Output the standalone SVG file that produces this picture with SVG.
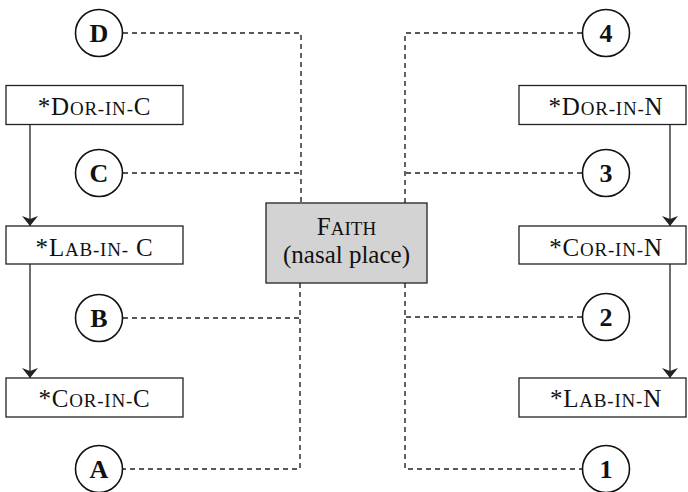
<svg xmlns="http://www.w3.org/2000/svg" width="688" height="492" viewBox="0 0 688 492">
<defs>
<style>
.box{fill:#fff;stroke:#222;stroke-width:1.3}
.faith{fill:#d3d3d3;stroke:#222;stroke-width:1.3}
.circ{fill:#fff;stroke:#111;stroke-width:1.6}
.t{font-family:"Liberation Serif","Times New Roman",serif;font-size:25px;fill:#111;text-anchor:middle}
.lbl{letter-spacing:0.8px}
.sc{font-size:19px}
.n{font-family:"Liberation Serif","Times New Roman",serif;font-size:26px;font-weight:bold;fill:#111;text-anchor:middle}
.dash{fill:none;stroke:#222;stroke-width:1.4;stroke-dasharray:5 4}
.arr{fill:none;stroke:#333;stroke-width:1.4;marker-end:url(#ah)}
</style>
<marker id="ah" viewBox="0 0 10 16" refX="10" refY="8" markerWidth="10" markerHeight="16" markerUnits="userSpaceOnUse" orient="auto">
<path d="M0,0 L10,8 L0,16 L3,8 Z" fill="#222"/>
</marker>
</defs>
<g id="connectors">
<path class="dash" d="M123,33 H301 V203"/>
<path class="dash" d="M123,173 H301"/>
<path class="dash" d="M123,318 H300"/>
<path class="dash" d="M300,283 V469 H123"/>
<path class="dash" d="M582,33 H405 V203"/>
<path class="dash" d="M582,173 H405"/>
<path class="dash" d="M582,317 H405"/>
<path class="dash" d="M405,283 V469 H582"/>
<line class="arr" x1="30" y1="124" x2="30" y2="226"/>
<line class="arr" x1="30" y1="264" x2="30" y2="378"/>
<line class="arr" x1="670" y1="124" x2="670" y2="226"/>
<line class="arr" x1="670" y1="264" x2="670" y2="378"/>
</g>
<g id="faith">
<rect class="faith" x="266" y="203" width="161" height="80"/>
<text class="t" x="346.5" y="235">F<tspan class="sc">AITH</tspan></text>
<text class="t" x="346.5" y="263">(nasal place)</text>
</g>
<g id="dor-in-c">
<rect class="box" x="6" y="85.5" width="177" height="39"/>
<text class="t lbl" x="94.5" y="115">*D<tspan class="sc">OR-IN-</tspan>C</text>
</g>
<g id="lab-in-c">
<rect class="box" x="6" y="226" width="177" height="38"/>
<text class="t lbl" x="94.5" y="256">*L<tspan class="sc">AB-IN-</tspan> C</text>
</g>
<g id="cor-in-c">
<rect class="box" x="6" y="378" width="177" height="39"/>
<text class="t lbl" x="94.5" y="407">*C<tspan class="sc">OR-IN-</tspan>C</text>
</g>
<g id="dor-in-n">
<rect class="box" x="519" y="85.5" width="167" height="39"/>
<text class="t lbl" x="606" y="115">*D<tspan class="sc">OR-IN-</tspan>N</text>
</g>
<g id="cor-in-n">
<rect class="box" x="519" y="226" width="167" height="38"/>
<text class="t lbl" x="606" y="256">*C<tspan class="sc">OR-IN-</tspan>N</text>
</g>
<g id="lab-in-n">
<rect class="box" x="519" y="378" width="167" height="39"/>
<text class="t lbl" x="606" y="407">*L<tspan class="sc">AB-IN-</tspan>N</text>
</g>
<g id="node-D"><circle class="circ" cx="99" cy="33" r="23.5"/><text class="n" x="99" y="42">D</text></g>
<g id="node-C"><circle class="circ" cx="99" cy="173" r="23.5"/><text class="n" x="99" y="182">C</text></g>
<g id="node-B"><circle class="circ" cx="99" cy="318" r="23.5"/><text class="n" x="99" y="327">B</text></g>
<g id="node-A"><circle class="circ" cx="99" cy="469" r="23.5"/><text class="n" x="99" y="478">A</text></g>
<g id="node-4"><circle class="circ" cx="606" cy="33" r="23.5"/><text class="n" x="606" y="42">4</text></g>
<g id="node-3"><circle class="circ" cx="606" cy="173" r="23.5"/><text class="n" x="606" y="182">3</text></g>
<g id="node-2"><circle class="circ" cx="606" cy="317" r="23.5"/><text class="n" x="606" y="326">2</text></g>
<g id="node-1"><circle class="circ" cx="606" cy="469" r="23.5"/><text class="n" x="606" y="478">1</text></g>
</svg>
